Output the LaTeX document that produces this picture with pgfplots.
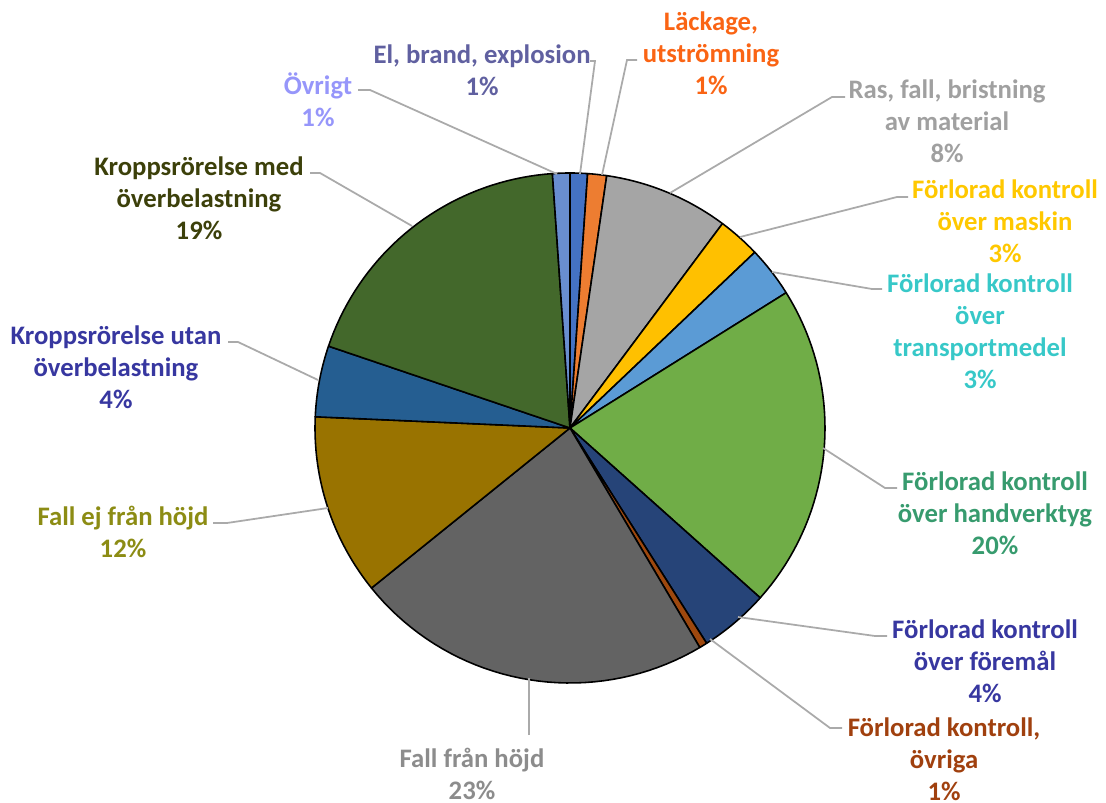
\documentclass[border=0pt]{standalone}
\usepackage{pgfplots}
\pgfplotsset{compat=1.18}
\usepackage{fontspec}
\setmainfont{Carlito}
\definecolor{sEl}{HTML}{4472C4}
\definecolor{sLack}{HTML}{ED7D31}
\definecolor{sRas}{HTML}{A5A5A5}
\definecolor{sMask}{HTML}{FFC000}
\definecolor{sTrans}{HTML}{5B9BD5}
\definecolor{sHand}{HTML}{70AD47}
\definecolor{sForem}{HTML}{264478}
\definecolor{sOvr}{HTML}{9E480E}
\definecolor{sFall}{HTML}{636363}
\definecolor{sFallej}{HTML}{997300}
\definecolor{sKutan}{HTML}{255E91}
\definecolor{sKmed}{HTML}{43682B}
\definecolor{sOvrigt}{HTML}{698ED0}
\definecolor{tOvrigt}{RGB}{150,150,250}
\definecolor{tEl}{RGB}{96,96,160}
\definecolor{tLack}{RGB}{250,100,20}
\definecolor{tRas}{RGB}{160,160,160}
\definecolor{tMask}{RGB}{255,200,0}
\definecolor{tTrans}{RGB}{55,200,200}
\definecolor{tHand}{RGB}{55,155,110}
\definecolor{tForem}{RGB}{55,55,160}
\definecolor{tOvr}{RGB}{160,64,14}
\definecolor{tFall}{RGB}{140,140,140}
\definecolor{tFallej}{RGB}{140,140,20}
\definecolor{tKutan}{RGB}{55,55,160}
\definecolor{tKmed}{RGB}{60,64,10}
\definecolor{leader}{RGB}{170,170,170}
\tikzset{lbl/.style={font=\fontsize{7.6}{9.1}\selectfont\bfseries, align=center, inner sep=0pt}}
\begin{document}
\begin{tikzpicture}
\begin{axis}[
  scale only axis, width=11.06cm, height=8.03cm,
  xmin=0, xmax=1106, ymin=0, ymax=803, y dir=reverse,
  hide axis, clip=false,
  every axis plot/.append style={draw=black, line width=0.45pt, samples=40, line join=round},
]
\path (axis cs:0,0) rectangle (axis cs:1106,803);
% slices: domain = cumulative percentages (clockwise from 12 o'clock)
\addplot[fill=sEl,     domain=0:1.1]    ({570+255*sin(3.6*x)},{428-255*cos(3.6*x)}) -- (axis cs:570,428) -- cycle;
\addplot[fill=sLack,   domain=1.1:2.3]  ({570+255*sin(3.6*x)},{428-255*cos(3.6*x)}) -- (axis cs:570,428) -- cycle;
\addplot[fill=sRas,    domain=2.3:10.2] ({570+255*sin(3.6*x)},{428-255*cos(3.6*x)}) -- (axis cs:570,428) -- cycle;
\addplot[fill=sMask,   domain=10.2:12.9] ({570+255*sin(3.6*x)},{428-255*cos(3.6*x)}) -- (axis cs:570,428) -- cycle;
\addplot[fill=sTrans,  domain=12.9:16.1] ({570+255*sin(3.6*x)},{428-255*cos(3.6*x)}) -- (axis cs:570,428) -- cycle;
\addplot[fill=sHand,   domain=16.1:36.6] ({570+255*sin(3.6*x)},{428-255*cos(3.6*x)}) -- (axis cs:570,428) -- cycle;
\addplot[fill=sForem,  domain=36.6:41.0] ({570+255*sin(3.6*x)},{428-255*cos(3.6*x)}) -- (axis cs:570,428) -- cycle;
\addplot[fill=sOvr,    domain=41.0:41.5] ({570+255*sin(3.6*x)},{428-255*cos(3.6*x)}) -- (axis cs:570,428) -- cycle;
\addplot[fill=sFall,   domain=41.5:64.2] ({570+255*sin(3.6*x)},{428-255*cos(3.6*x)}) -- (axis cs:570,428) -- cycle;
\addplot[fill=sFallej, domain=64.2:75.7] ({570+255*sin(3.6*x)},{428-255*cos(3.6*x)}) -- (axis cs:570,428) -- cycle;
\addplot[fill=sKutan,  domain=75.7:80.2] ({570+255*sin(3.6*x)},{428-255*cos(3.6*x)}) -- (axis cs:570,428) -- cycle;
\addplot[fill=sKmed,   domain=80.2:98.9] ({570+255*sin(3.6*x)},{428-255*cos(3.6*x)}) -- (axis cs:570,428) -- cycle;
\addplot[fill=sOvrigt, domain=98.9:100]  ({570+255*sin(3.6*x)},{428-255*cos(3.6*x)}) -- (axis cs:570,428) -- cycle;

% leader lines
\draw[leader, line width=0.5pt] (axis cs:358,90) -- (axis cs:370,90) -- (axis cs:557,174);
\draw[leader, line width=0.5pt] (axis cs:590,61) -- (axis cs:595,61) -- (axis cs:580,174);
\draw[leader, line width=0.5pt] (axis cs:637,60) -- (axis cs:627,60) -- (axis cs:602,175);
\draw[leader, line width=0.5pt] (axis cs:845,97) -- (axis cs:832,97) -- (axis cs:670,193);
\draw[leader, line width=0.5pt] (axis cs:908,197) -- (axis cs:897,197) -- (axis cs:740,237);
\draw[leader, line width=0.5pt] (axis cs:882,289) -- (axis cs:872,289) -- (axis cs:772,272);
\draw[leader, line width=0.5pt] (axis cs:897,488) -- (axis cs:885,488) -- (axis cs:823,448);
\draw[leader, line width=0.5pt] (axis cs:887,636) -- (axis cs:875,636) -- (axis cs:738,617);
\draw[leader, line width=0.5pt] (axis cs:842,728) -- (axis cs:830,728) -- (axis cs:710,639);
\draw[leader, line width=0.5pt] (axis cs:529,735) -- (axis cs:529,678);
\draw[leader, line width=0.5pt] (axis cs:213,523) -- (axis cs:227,523) -- (axis cs:328,508);
\draw[leader, line width=0.5pt] (axis cs:228,342) -- (axis cs:238,342) -- (axis cs:318,380);
\draw[leader, line width=0.5pt] (axis cs:310,173) -- (axis cs:320,173) -- (axis cs:412,226);

% labels
\node[lbl, text=tOvrigt] at (axis cs:318,100) {Övrigt\\1\%};
\node[lbl, text=tEl]     at (axis cs:482,70)  {El, brand, explosion\\1\%};
\node[lbl, text=tLack]   at (axis cs:711,53)  {Läckage,\\utströmning\\1\%};
\node[lbl, text=tRas]    at (axis cs:947,121) {Ras, fall, bristning\\av material\\8\%};
\node[lbl, text=tMask]   at (axis cs:1005,221) {Förlorad kontroll\\över maskin\\3\%};
\node[lbl, text=tTrans]  at (axis cs:980,331) {Förlorad kontroll\\över\\transportmedel\\3\%};
\node[lbl, text=tHand]   at (axis cs:995,513) {Förlorad kontroll\\över handverktyg\\20\%};
\node[lbl, text=tForem]  at (axis cs:985,661) {Förlorad kontroll\\över föremål\\4\%};
\node[lbl, text=tOvr]    at (axis cs:944,759) {Förlorad kontroll,\\övriga\\1\%};
\node[lbl, text=tFall]   at (axis cs:472,774) {Fall från höjd\\23\%};
\node[lbl, text=tFallej] at (axis cs:123,532) {Fall ej från höjd\\12\%};
\node[lbl, text=tKutan]  at (axis cs:116,367) {Kroppsrörelse utan\\överbelastning\\4\%};
\node[lbl, text=tKmed]   at (axis cs:199,198) {Kroppsrörelse med\\överbelastning\\19\%};
\end{axis}
\end{tikzpicture}
\end{document}
